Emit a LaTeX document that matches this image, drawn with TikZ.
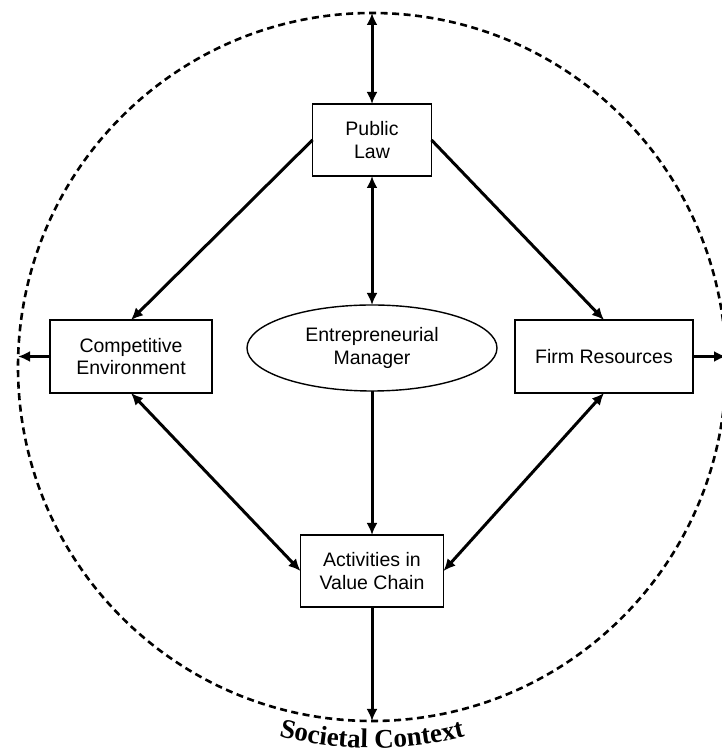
\documentclass[tikz,border=0pt]{standalone}
\usepackage{fontspec}
\setmainfont{Liberation Sans}
\newfontfamily\socfont{Liberation Serif}
\usetikzlibrary{arrows.meta,shapes.geometric,decorations.text}
\newcommand\lab{\fontsize{19.5}{22.5}\selectfont}
\begin{document}
\begin{tikzpicture}[x=1pt,y=1pt,
  box/.style={draw, line width=1.2pt, align=center, inner sep=0pt, outer sep=0pt, font=\lab},
  conn/.style={line width=3pt, -{Latex[length=12pt,width=11pt]}},
  biconn/.style={line width=3pt, {Latex[length=12pt,width=11pt]}-{Latex[length=12pt,width=11pt]}}]
\useasboundingbox (0,0) rectangle (722,749);
\node[circle, draw, dash pattern=on 7pt off 4.5pt, line width=2.6pt, minimum size=708pt, inner sep=0pt, outer sep=0pt] (ctx) at (372,382) {};
\node[box, minimum width=119pt, minimum height=72pt] (pl) at (372,609) {Public\\Law};
\node[box, minimum width=162pt, minimum height=73pt] (ce) at (131,392.5) {Competitive\\Environment};
\node[box, minimum width=178pt, minimum height=73pt] (fr) at (604,392.5) {Firm Resources};
\node[ellipse, draw, line width=1.4pt, minimum width=250pt, minimum height=86pt, inner sep=0pt, outer sep=0pt, align=center, font=\lab] (em) at (372,401) {Entrepreneurial\\Manager};
\node[box, minimum width=143pt, minimum height=72pt] (av) at (372,178) {Activities in\\Value Chain};
\draw[biconn] (pl.north) -- (ctx.north);
\draw[conn] (pl.west) -- (ce.north);
\draw[conn] (pl.east) -- (fr.north);
\draw[biconn] (pl.south) -- (em.north);
\draw[conn] (em.south) -- (av.north);
\draw[biconn] (ce.south) -- (av.west);
\draw[biconn] (fr.south) -- (av.east);
\draw[conn] (av.south) -- (ctx.south);
\draw[conn] (ce.west) -- (ce.west -| ctx.west);
\draw[conn] (fr.east) -- (fr.east -| ctx.east);
\path[decorate, decoration={text along path, text align=center, text={|\socfont\bfseries\fontsize{27}{27}\selectfont|Societal Context}}] (372,379) ++(250:378) arc[start angle=250, end angle=290, radius=378];
\end{tikzpicture}
\end{document}
